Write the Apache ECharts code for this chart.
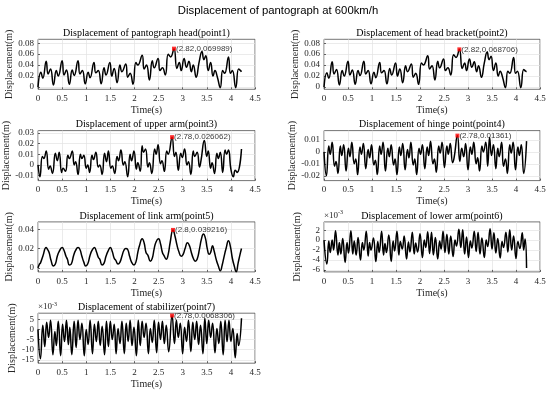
<!DOCTYPE html>
<html><head><meta charset="utf-8">
<script src="https://cdn.jsdelivr.net/npm/echarts@6/dist/echarts.min.js"></script>
<style>html,body{margin:0;padding:0;background:#fff}#c{width:550px;height:394px}</style>
</head><body><div id="c"></div>
<script>
const mainTitle = 'Displacement of pantograph at 600km/h';
const xTicks = [0, 0.5, 1, 1.5, 2, 2.5, 3, 3.5, 4, 4.5];
const titles = ['Displacement of pantograph head(point1)', 'Displacement of head bracket(point2)',
  'Displacement of upper arm(point3)', 'Displacement of hinge point(point4)',
  'Displacement of link arm(point5)', 'Displacement of lower arm(point6)', 'Displacement of stabilizer(point7)'];
const yTicks = [[0,0.02,0.04,0.06,0.08],[0,0.02,0.04,0.06,0.08],[-0.01,0,0.01,0.02,0.03],
  [-0.02,-0.01,0,0.01],[0,0.02,0.04],[-6,-4,-2,0,2],[-15,-10,-5,0,5]];
const yLimits = [[-0.004,0.087],[-0.004,0.087],[-0.0147,0.0322],[-0.024,0.0178],[-0.0041,0.0475],[-6.4,3.66],[-16.7,8.0]];
const scaleNote = [null,null,null,null,null,'-3','-3'];

// time (s), displacement (m; panels 6,7 in 1e-3 m)
const p1 = [[0,0],[0.06,0.027],[0.10,0.016],[0.17,0.047],[0.21,0.024],[0.26,0.033],[0.32,0.004],
[0.38,0.030],[0.42,0.020],[0.50,0.048],[0.54,0.022],[0.59,0.031],[0.65,0.005],
[0.71,0.031],[0.75,0.021],[0.83,0.048],[0.87,0.024],[0.92,0.030],[0.98,0.006],
[1.04,0.027],[1.08,0.017],[1.16,0.045],[1.20,0.026],[1.25,0.030],[1.31,0.006],
[1.37,0.035],[1.41,0.022],[1.49,0.045],[1.53,0.020],[1.58,0.034],[1.64,0.008],
[1.70,0.040],[1.74,0.028],[1.82,0.042],[1.86,0.018],[1.91,0.025],[1.97,0.005],
[2.03,0.045],[2.07,0.040],[2.16,0.058],[2.20,0.033],[2.25,0.040],[2.31,0.013],
[2.37,0.048],[2.41,0.035],[2.49,0.052],[2.53,0.030],[2.58,0.035],[2.64,0.022],
[2.70,0.060],[2.75,0.055],[2.82,0.069989],[2.88,0.034],[2.93,0.045],[2.97,0.030],
[3.03,0.052],[3.08,0.036],[3.13,0.047],[3.18,0.028],[3.22,0.040],[3.28,0.018],
[3.34,0.045],[3.40,0.065],[3.44,0.050],[3.48,0.057],[3.53,0.030],[3.58,0.045],[3.63,0.020],
[3.67,0.030],[3.72,0.018],[3.78,-0.001],[3.83,0.030],[3.87,0.025],[3.95,0.055],[3.99,0.025],
[4.03,0.030],[4.10,-0.001],[4.16,0.033],[4.20,0.030],[4.22,0.028]];
const p2 = [[0,0],[0.06,0.026],[0.10,0.016],[0.17,0.046],[0.21,0.024],[0.26,0.032],[0.32,0.004],
[0.38,0.030],[0.42,0.020],[0.50,0.047],[0.54,0.022],[0.59,0.031],[0.65,0.005],
[0.71,0.030],[0.75,0.021],[0.83,0.047],[0.87,0.024],[0.92,0.030],[0.98,0.006],
[1.04,0.027],[1.08,0.017],[1.16,0.045],[1.20,0.026],[1.25,0.030],[1.31,0.006],
[1.37,0.034],[1.41,0.022],[1.49,0.044],[1.53,0.020],[1.58,0.033],[1.64,0.008],
[1.70,0.039],[1.74,0.028],[1.82,0.042],[1.86,0.018],[1.91,0.025],[1.97,0.005],
[2.03,0.044],[2.07,0.040],[2.16,0.057],[2.20,0.033],[2.25,0.039],[2.31,0.013],
[2.37,0.047],[2.41,0.035],[2.49,0.051],[2.53,0.030],[2.58,0.035],[2.64,0.022],
[2.70,0.059],[2.75,0.054],[2.82,0.068706],[2.88,0.034],[2.93,0.044],[2.97,0.030],
[3.03,0.051],[3.08,0.036],[3.13,0.046],[3.18,0.028],[3.22,0.039],[3.28,0.018],
[3.34,0.044],[3.40,0.064],[3.44,0.050],[3.48,0.056],[3.53,0.030],[3.58,0.044],[3.63,0.020],
[3.67,0.029],[3.72,0.018],[3.78,-0.001],[3.83,0.029],[3.87,0.025],[3.95,0.054],[3.99,0.025],
[4.03,0.029],[4.10,-0.001],[4.16,0.032],[4.20,0.029],[4.22,0.028]];
const p3 = [[0,0],[0.04,-0.011],[0.09,0.008],[0.12,0.006],[0.17,0.013],[0.22,-0.004],[0.25,-0.001],[0.30,-0.008],
[0.36,0.011],[0.40,0.004],[0.44,0.012],[0.49,-0.007],[0.52,-0.003],[0.57,-0.006],[0.62,0.009],[0.65,0.006],
[0.71,0.013],[0.75,0.000],[0.78,0.003],[0.83,-0.009],[0.88,0.010],[0.91,0.006],[0.95,0.009],[1.00,-0.003],
[1.03,0.000],[1.07,-0.007],[1.12,0.009],[1.15,0.005],[1.20,0.012],[1.25,-0.002],[1.28,0.000],[1.33,-0.009],
[1.38,0.011],[1.42,0.003],[1.46,0.013],[1.51,-0.003],[1.54,-0.001],[1.59,-0.008],[1.64,0.008],[1.67,0.004],
[1.72,0.014],[1.77,0.000],[1.80,0.003],[1.86,-0.011],[1.91,0.010],[1.94,0.004],[1.99,0.013],[2.04,-0.004],
[2.07,0.002],[2.12,-0.006],[2.16,0.018],[2.19,0.012],[2.23,0.015],[2.28,-0.002],[2.31,0.002],[2.36,-0.008],
[2.42,0.015],[2.45,0.010],[2.49,0.019],[2.54,0.001],[2.57,0.004],[2.62,-0.006],[2.67,0.013],[2.70,0.010],
[2.78,0.026062],[2.83,0.008],[2.86,0.012],[2.91,-0.005],[2.96,0.011],[2.99,0.007],[3.04,0.015],[3.09,0.000],
[3.12,0.003],[3.17,-0.009],[3.22,0.013],[3.25,0.008],[3.30,0.012],[3.35,-0.002],[3.38,0.004],[3.45,0.023],
[3.50,0.008],[3.53,0.013],[3.58,-0.003],[3.61,0.002],[3.66,-0.008],[3.71,0.011],[3.74,0.006],[3.78,0.012],
[3.83,-0.007],[3.88,0.014],[3.91,0.010],[3.95,0.014],[4.00,-0.004],[4.05,-0.011],[4.09,-0.005],[4.13,-0.007],[4.22,0.015]];
const p4 = [[0,0],[0.05,-0.020],[0.10,0.005],[0.13,-0.002],[0.17,0.008],[0.22,-0.012],[0.25,-0.008],[0.29,-0.018],
[0.34,0.005],[0.37,-0.003],[0.41,0.006],[0.46,-0.016],[0.51,0.003],[0.54,-0.004],[0.58,0.008],[0.63,-0.010],
[0.66,-0.006],[0.70,-0.019],[0.75,0.004],[0.78,-0.002],[0.82,0.007],[0.87,-0.014],[0.92,0.002],[0.95,-0.005],
[0.99,0.006],[1.04,-0.011],[1.07,-0.007],[1.11,-0.019],[1.16,0.005],[1.19,-0.002],[1.23,0.008],[1.28,-0.016],
[1.33,0.003],[1.36,-0.004],[1.40,0.006],[1.45,-0.011],[1.48,-0.006],[1.52,-0.019],[1.57,0.004],[1.60,-0.003],
[1.64,0.007],[1.69,-0.015],[1.74,0.002],[1.77,-0.005],[1.81,0.008],[1.86,-0.011],[1.89,-0.006],[1.93,-0.019],
[1.98,0.003],[2.01,-0.002],[2.05,0.006],[2.10,-0.014],[2.15,0.004],[2.18,-0.003],[2.22,0.009],[2.27,-0.010],
[2.30,-0.006],[2.34,-0.017],[2.39,0.005],[2.42,-0.001],[2.46,0.008],[2.51,-0.013],[2.56,0.005],[2.59,-0.002],
[2.63,0.007],[2.68,-0.009],[2.71,-0.005],[2.78,0.01361],[2.83,-0.008],[2.87,0.003],[2.91,-0.004],[2.95,0.007],
[3.00,-0.015],[3.05,0.004],[3.08,-0.002],[3.12,0.008],[3.17,-0.010],[3.20,-0.005],[3.24,-0.016],[3.29,0.005],
[3.32,0.000],[3.37,0.008],[3.41,-0.012],[3.45,0.012],[3.49,-0.003],[3.53,0.006],[3.58,-0.014],[3.62,0.003],
[3.65,-0.004],[3.70,0.008],[3.74,-0.012],[3.78,-0.006],[3.82,-0.018],[3.87,0.006],[3.90,-0.001],[3.94,0.008],
[3.99,-0.015],[4.04,0.004],[4.07,-0.003],[4.11,0.006],[4.16,-0.018],[4.22,0.009]];
const p5 = [[0,0],[0.03,0.004],[0.05,0.005],[0.10,0.012],[0.17,0.021],[0.20,0.019],[0.23,0.016],[0.27,0.008],
[0.32,0.002],[0.36,0.004],[0.40,0.012],[0.44,0.017],[0.50,0.021],[0.54,0.018],[0.58,0.012],[0.61,0.009],
[0.65,0.003],[0.69,0.004],[0.74,0.013],[0.78,0.018],[0.83,0.021],[0.87,0.019],[0.91,0.012],[0.95,0.006],
[0.99,0.002],[1.03,0.004],[1.08,0.013],[1.12,0.018],[1.17,0.021],[1.21,0.017],[1.25,0.011],[1.28,0.009],
[1.33,0.003],[1.37,0.005],[1.41,0.012],[1.45,0.017],[1.50,0.021],[1.54,0.017],[1.58,0.010],[1.61,0.008],
[1.66,0.004],[1.70,0.006],[1.74,0.012],[1.78,0.018],[1.82,0.020],[1.86,0.019],[1.90,0.012],[1.94,0.006],
[1.99,0.003],[2.03,0.006],[2.07,0.016],[2.11,0.024],[2.16,0.030],[2.20,0.026],[2.24,0.016],[2.28,0.013],
[2.33,0.007],[2.37,0.010],[2.41,0.020],[2.45,0.027],[2.50,0.030],[2.54,0.025],[2.58,0.016],[2.61,0.013],
[2.66,0.009],[2.70,0.014],[2.74,0.026],[2.80,0.039216],[2.84,0.033],[2.88,0.024],[2.92,0.017],[2.97,0.012],
[3.01,0.014],[3.05,0.020],[3.10,0.026],[3.14,0.023],[3.18,0.016],[3.22,0.010],[3.26,0.007],[3.30,0.009],
[3.35,0.020],[3.39,0.030],[3.43,0.035],[3.47,0.031],[3.51,0.020],[3.55,0.014],[3.58,0.016],[3.62,0.023],
[3.65,0.018],[3.70,0.008],[3.74,0.002],[3.78,-0.003],[3.82,0.003],[3.86,0.012],[3.90,0.020],[3.95,0.028],
[3.99,0.022],[4.03,0.010],[4.07,0.002],[4.11,-0.004],[4.15,0.005],[4.19,0.014],[4.22,0.020]];
const p6 = [[0,0],[0.06,-4.8],[0.10,-0.2],[0.13,-2.5],[0.17,0.0],[0.20,-2.0],[0.24,1.9],[0.29,-3.0],
[0.32,-0.5],[0.35,-2.8],[0.39,0.3],[0.44,-4.5],[0.48,-0.5],[0.51,-2.6],[0.56,1.9],[0.60,-2.8],
[0.63,-0.2],[0.67,-3.0],[0.71,0.5],[0.76,-4.0],[0.80,-0.5],[0.83,-2.0],[0.88,1.8],[0.92,-3.2],
[0.95,-0.5],[0.98,-2.0],[1.03,0.4],[1.08,-4.3],[1.12,-0.3],[1.15,-2.5],[1.20,1.8],[1.24,-3.0],
[1.27,-0.7],[1.30,-2.5],[1.35,1.0],[1.40,-4.3],[1.44,-0.2],[1.47,-2.2],[1.52,1.8],[1.56,-3.0],
[1.59,-0.3],[1.63,-1.8],[1.67,0.8],[1.72,-3.8],[1.76,-0.4],[1.79,-2.4],[1.84,1.6],[1.88,-2.8],
[1.91,-0.6],[1.95,-2.4],[2.00,1.3],[2.05,-3.5],[2.09,0.0],[2.12,-1.5],[2.16,1.7],[2.20,-2.7],
[2.24,1.6],[2.28,-3.0],[2.32,0.5],[2.37,-3.8],[2.41,-0.2],[2.44,-1.8],[2.48,1.8],[2.52,-2.5],
[2.56,1.2],[2.60,-2.8],[2.64,0.8],[2.69,-3.3],[2.73,0.0],[2.76,-1.2],[2.81,2.2],[2.85,-1.5],
[2.89,2.1],[2.93,-2.8],[2.97,0.6],[3.01,-3.5],[3.05,-0.2],[3.08,-1.6],[3.13,1.8],[3.17,-2.3],
[3.21,1.6],[3.25,-2.8],[3.29,0.4],[3.34,-3.5],[3.38,0.0],[3.41,-1.3],[3.46,2.3],[3.50,-1.8],
[3.54,1.5],[3.58,-2.6],[3.62,0.3],[3.67,-3.6],[3.71,-0.3],[3.74,-1.5],[3.79,1.6],[3.83,-2.4],
[3.87,2.1],[3.91,-2.0],[3.95,0.8],[4.00,-3.7],[4.04,-0.3],[4.08,-1.7],[4.13,1.5],[4.16,-2.0],
[4.19,0.2],[4.22,-5.6]];
const p7 = [[0,0],[0.05,-14.5],[0.10,2.0],[0.14,-8.5],[0.18,3.5],[0.22,-4.0],[0.26,4.5],[0.31,-12.5],
[0.35,-1.0],[0.38,-8.0],[0.42,4.0],[0.47,-13.0],[0.51,2.5],[0.55,-6.0],[0.59,4.5],[0.63,-7.5],
[0.66,1.0],[0.70,-12.5],[0.75,4.0],[0.79,-9.0],[0.83,4.5],[0.87,-5.0],[0.91,3.0],[0.96,-13.0],
[1.00,0.0],[1.04,-7.5],[1.08,4.5],[1.13,-12.0],[1.17,2.5],[1.21,-6.0],[1.25,4.0],[1.29,-8.0],
[1.33,1.5],[1.38,-12.5],[1.42,4.0],[1.46,-8.5],[1.50,4.0],[1.54,-5.0],[1.58,2.5],[1.62,-12.0],
[1.66,0.5],[1.70,-7.0],[1.74,4.0],[1.79,-12.0],[1.83,3.0],[1.87,-6.0],[1.91,4.5],[1.95,-8.0],
[1.99,1.0],[2.04,-13.0],[2.08,4.5],[2.12,-8.0],[2.16,4.0],[2.20,-4.0],[2.24,3.0],[2.29,-12.0],
[2.33,0.5],[2.37,-6.5],[2.41,4.5],[2.46,-11.5],[2.50,3.5],[2.54,-5.0],[2.58,4.0],[2.62,-7.0],
[2.66,2.0],[2.71,-11.0],[2.78,6.8306],[2.83,-7.0],[2.87,4.5],[2.91,-4.0],[2.95,3.0],[3.00,-12.0],
[3.04,1.0],[3.08,-6.0],[3.12,4.5],[3.17,-11.0],[3.21,3.5],[3.25,-5.0],[3.29,4.0],[3.33,-7.5],
[3.37,2.0],[3.42,-12.0],[3.46,5.5],[3.50,-7.0],[3.54,4.5],[3.58,-4.0],[3.62,3.0],[3.67,-11.5],
[3.71,0.5],[3.75,-7.0],[3.79,4.0],[3.84,-12.5],[3.88,4.5],[3.92,-6.0],[3.96,4.5],[4.00,-6.0],
[4.04,0.5],[4.09,-14.0],[4.13,-2.0],[4.16,-8.0],[4.22,5.5]];
const seriesData = [p1, p2, p3, p4, p5, p6, p7];

// data-tip markers: [time, value in plotted units, label]
const tips = [[2.82,0.069989,'(2.82,0.069989)'],[2.82,0.068706,'(2.82,0.068706)'],
  [2.78,0.026062,'(2.78,0.026062)'],[2.78,0.01361,'(2.78,0.01361)'],
  [2.8,0.039216,'(2.8,0.039216)'], null, [2.78,6.8306,'(2.78,0.0068306)']];

const SERIF = 'Liberation Serif, Times New Roman, serif';
const SANS = 'Liberation Sans, Arial, sans-serif';
const TXT = '#262626';
const colLeft = [38, 324], colW = [217, 216];
const rowTop = [39.3, 130.6, 221.9, 313.2], H = 50;

const grid = [], xAxis = [], yAxis = [], series = [], title = [];
title.push({text: mainTitle, left: 278, top: 5.5, textAlign: 'center', padding: 0,
  textStyle: {fontFamily: SANS, fontSize: 11.3, fontWeight: 'normal', color: '#000'}});

seriesData.forEach((d, i) => {
  const r = Math.floor(i / 2), c = i % 2;
  const L = colLeft[c], T = rowTop[r], W = colW[c];
  grid.push({left: L, top: T, width: W, height: H, show: true, borderColor: '#3a3a3a', borderWidth: 0.7, backgroundColor: 'transparent'});
  title.push({text: titles[i], left: L + W / 2, top: T - 11, textAlign: 'center', padding: 0,
    textStyle: {fontFamily: SERIF, fontSize: 10, fontWeight: 'normal', color: '#000'}});
  if (scaleNote[i]) {
    title.push({text: '{a|×10}{b|' + scaleNote[i] + '}', left: L, top: T - 12, padding: 0,
      textStyle: {fontWeight: 'normal', rich: {a: {fontFamily: SERIF, fontSize: 9, fontWeight: 'normal', color: TXT, lineHeight: 11},
        b: {fontFamily: SERIF, fontSize: 6, fontWeight: 'normal', color: TXT, lineHeight: 11, verticalAlign: 'top', padding: [0,0,4,0]}}}});
  }
  xAxis.push({gridIndex: i, type: 'value', min: xTicks[0], max: xTicks[xTicks.length - 1], interval: xTicks[1] - xTicks[0],
    name: 'Time(s)', nameLocation: 'middle', nameGap: 16,
    nameTextStyle: {fontFamily: SERIF, fontSize: 10, color: TXT},
    axisLine: {show: false, onZero: false}, axisTick: {inside: true, length: 2, lineStyle: {color: TXT, width: 0.7}},
    axisLabel: {margin: 5, fontFamily: SERIF, fontSize: 9, color: TXT},
    splitLine: {show: true, lineStyle: {color: '#e2e2e2', width: 0.7}}});
  const ticks = yTicks[i];
  yAxis.push({gridIndex: i, type: 'value', min: yLimits[i][0], max: yLimits[i][1],
    name: 'Displacement(m)', nameLocation: 'middle', nameGap: c === 0 ? 21 : 22, nameRotate: 90,
    nameTextStyle: {fontFamily: SERIF, fontSize: 10, color: TXT},
    axisLine: {show: false, onZero: false},
    axisTick: {inside: true, length: 2, customValues: ticks, lineStyle: {color: TXT, width: 0.7}},
    axisLabel: {margin: 4, customValues: ticks, fontFamily: SERIF, fontSize: 9, color: TXT,
      formatter: v => String(Math.round(v * 1e6) / 1e6)},
    splitLine: {show: true, lineStyle: {color: '#e2e2e2', width: 0.7}}});
  series.push({type: 'line', xAxisIndex: i, yAxisIndex: i, data: d, symbol: 'none', smooth: 0.5,
    lineStyle: {color: '#000', width: 1.5}, silent: true, animation: false});
  if (tips[i]) {
    series.push({type: 'scatter', xAxisIndex: i, yAxisIndex: i, data: [[tips[i][0], tips[i][1]]],
      symbol: 'rect', symbolSize: 4, itemStyle: {color: '#ff0000'}, silent: true, animation: false, z: 5,
      label: {show: true, position: 'right', distance: 0, formatter: tips[i][2],
        fontFamily: SANS, fontSize: 8, color: '#000'}});
  }
});

const chart = echarts.init(document.getElementById('c'), null, {renderer: 'canvas'});
chart.setOption({animation: false, backgroundColor: '#fff', title, grid, xAxis, yAxis, series});
</script></body></html>
